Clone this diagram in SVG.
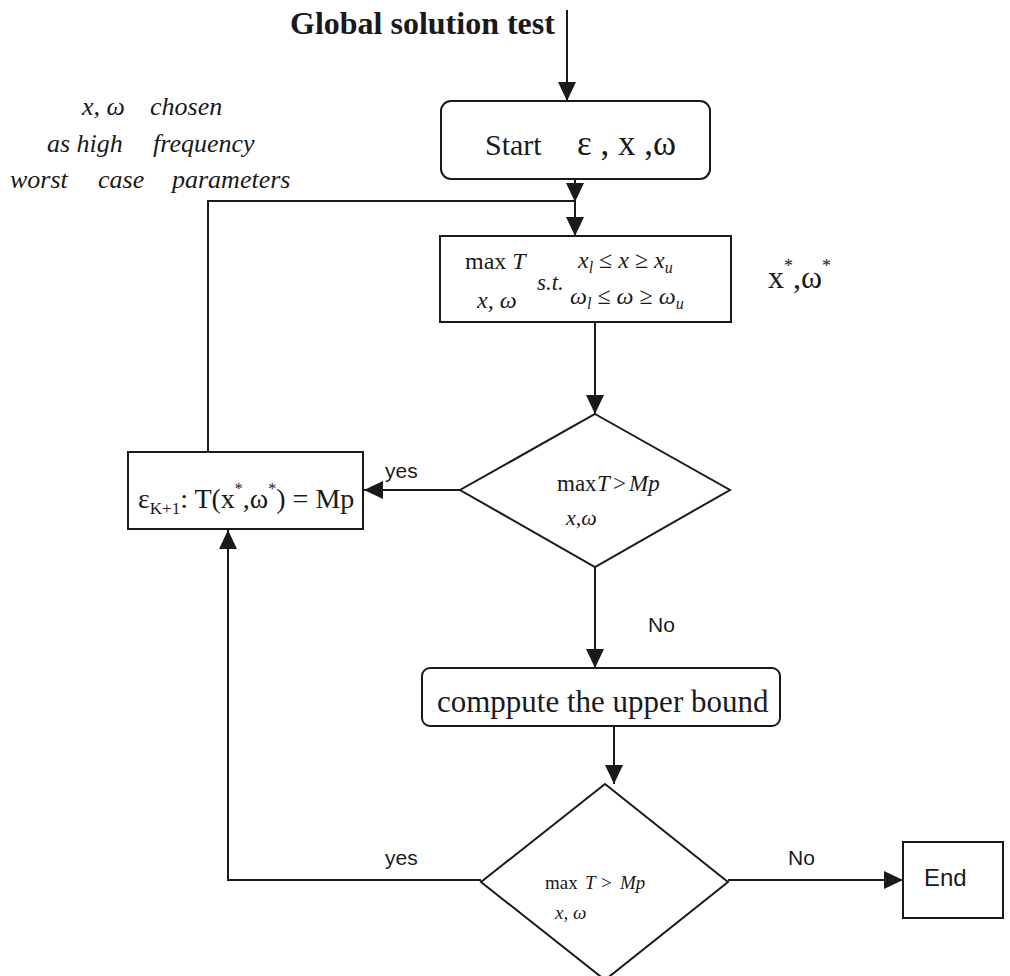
<svg xmlns="http://www.w3.org/2000/svg" width="1010" height="976" viewBox="0 0 1010 976">
  <style>
    .node { fill: #ffffff; stroke: #1a1a1a; stroke-width: 2; }
    .edge { fill: none; stroke: #1a1a1a; stroke-width: 2; }
    .serif { font-family: "Liberation Serif", "Times New Roman", serif; fill: #1a1a1a; }
    .sans { font-family: "Liberation Sans", Arial, sans-serif; fill: #1a1a1a; }
    .it { font-style: italic; }
  </style>
  <defs>
    <marker id="arrow" markerUnits="userSpaceOnUse" markerWidth="20" markerHeight="18" refX="19" refY="9" orient="auto">
      <path d="M0,0 L19,9 L0,18 Z" fill="#1a1a1a"/>
    </marker>
  </defs>

  <rect width="1010" height="976" fill="#ffffff"/>

  <!-- title -->
  <text class="serif" x="290" y="34" font-size="32" font-weight="bold">Global solution test</text>

  <!-- side note -->
  <g id="note" class="serif it" font-size="26">
    <text x="82" y="115">x, ω</text>
    <text x="150" y="115">chosen</text>
    <text x="47" y="152">as high</text>
    <text x="153" y="152">frequency</text>
    <text x="10" y="188">worst</text>
    <text x="98" y="188">case</text>
    <text x="172" y="188">parameters</text>
  </g>

  <!-- connectors -->
  <g id="connectors">
    <path class="edge" d="M567,10 V101" marker-end="url(#arrow)"/>
    <path class="edge" d="M575,179 V202" marker-end="url(#arrow)"/>
    <path class="edge" d="M575,202 V236" marker-end="url(#arrow)"/>
    <path class="edge" d="M208,452 V201 H575"/>
    <path class="edge" d="M595,322 V414" marker-end="url(#arrow)"/>
    <path class="edge" d="M460,490 H364" marker-end="url(#arrow)"/>
    <path class="edge" d="M595,567 V668" marker-end="url(#arrow)"/>
    <path class="edge" d="M614,726 V784" marker-end="url(#arrow)"/>
    <path class="edge" d="M728,880 H903" marker-end="url(#arrow)"/>
    <path class="edge" d="M481,880 H228 V530" marker-end="url(#arrow)"/>
    <text class="sans" x="385" y="478" font-size="21">yes</text>
    <text class="sans" x="648" y="632" font-size="21">No</text>
    <text class="sans" x="385" y="865" font-size="21">yes</text>
    <text class="sans" x="788" y="865" font-size="21">No</text>
  </g>

  <!-- start -->
  <g id="start">
    <rect class="node" x="441" y="101" width="269" height="78" rx="10"/>
    <text class="serif" x="485" y="155" font-size="30">Start</text>
    <text class="serif" x="577" y="155" font-size="35">ε<tspan> , x ,</tspan>ω</text>
  </g>

  <!-- optimisation step -->
  <g id="maximise">
    <rect class="node" x="440" y="236" width="291" height="86"/>
    <text class="serif" x="465" y="269" font-size="24">max <tspan class="it">T</tspan></text>
    <text class="serif it" x="477" y="308" font-size="24">x, ω</text>
    <text class="serif it" x="537" y="290" font-size="23">s.t.</text>
    <text class="serif it" x="578" y="268" font-size="24">x<tspan font-size="16" dy="5">l</tspan><tspan dy="-5" font-style="normal"> ≤ </tspan>x<tspan font-style="normal"> ≥ </tspan>x<tspan font-size="16" dy="5">u</tspan></text>
    <text class="serif it" x="570" y="304" font-size="24">ω<tspan font-size="16" dy="5">l</tspan><tspan dy="-5" font-style="normal"> ≤ </tspan>ω<tspan font-style="normal"> ≥ </tspan>ω<tspan font-size="16" dy="5">u</tspan></text>
  </g>

  <!-- optimum label -->
  <text id="optimum" class="serif" x="768" y="288" font-size="32">x<tspan font-size="18" dy="-16">*</tspan><tspan dy="16">,ω</tspan><tspan font-size="18" dy="-16">*</tspan></text>

  <!-- first test -->
  <g id="test1">
    <polygon class="node" points="595,414 730,490 595,567 460,490"/>
    <text class="serif" y="491" font-size="23"><tspan x="557">max</tspan><tspan class="it" x="597">T</tspan><tspan x="613">&gt;</tspan><tspan class="it" x="629">Mp</tspan></text>
    <text class="serif it" x="566" y="525" font-size="22">x,ω</text>
  </g>

  <!-- update step -->
  <g id="update">
    <rect class="node" x="128" y="452" width="235" height="77"/>
    <text class="serif" x="138" y="508" font-size="28">ε<tspan font-size="17" dy="6">K+1</tspan><tspan dy="-6">:  T(x</tspan><tspan font-size="16" dy="-14">*</tspan><tspan dy="14">,ω</tspan><tspan font-size="16" dy="-14">*</tspan><tspan dy="14">) = Mp</tspan></text>
  </g>

  <!-- upper bound -->
  <g id="bound">
    <rect class="node" x="422" y="668" width="358" height="58" rx="8"/>
    <text class="serif" x="437" y="712" font-size="31">comppute the upper bound</text>
  </g>

  <!-- second test -->
  <g id="test2">
    <polygon class="node" points="605,784 728,882 605,980 481,882"/>
    <text class="serif" y="889" font-size="19"><tspan x="545">max</tspan><tspan class="it" x="585">T</tspan><tspan x="601">&gt;</tspan><tspan class="it" x="620">Mp</tspan></text>
    <text class="serif it" x="555" y="919" font-size="19">x, ω</text>
  </g>

  <!-- end -->
  <g id="end">
    <rect class="node" x="903" y="842" width="100" height="76"/>
    <text class="sans" x="924" y="886" font-size="24">End</text>
  </g>
</svg>
